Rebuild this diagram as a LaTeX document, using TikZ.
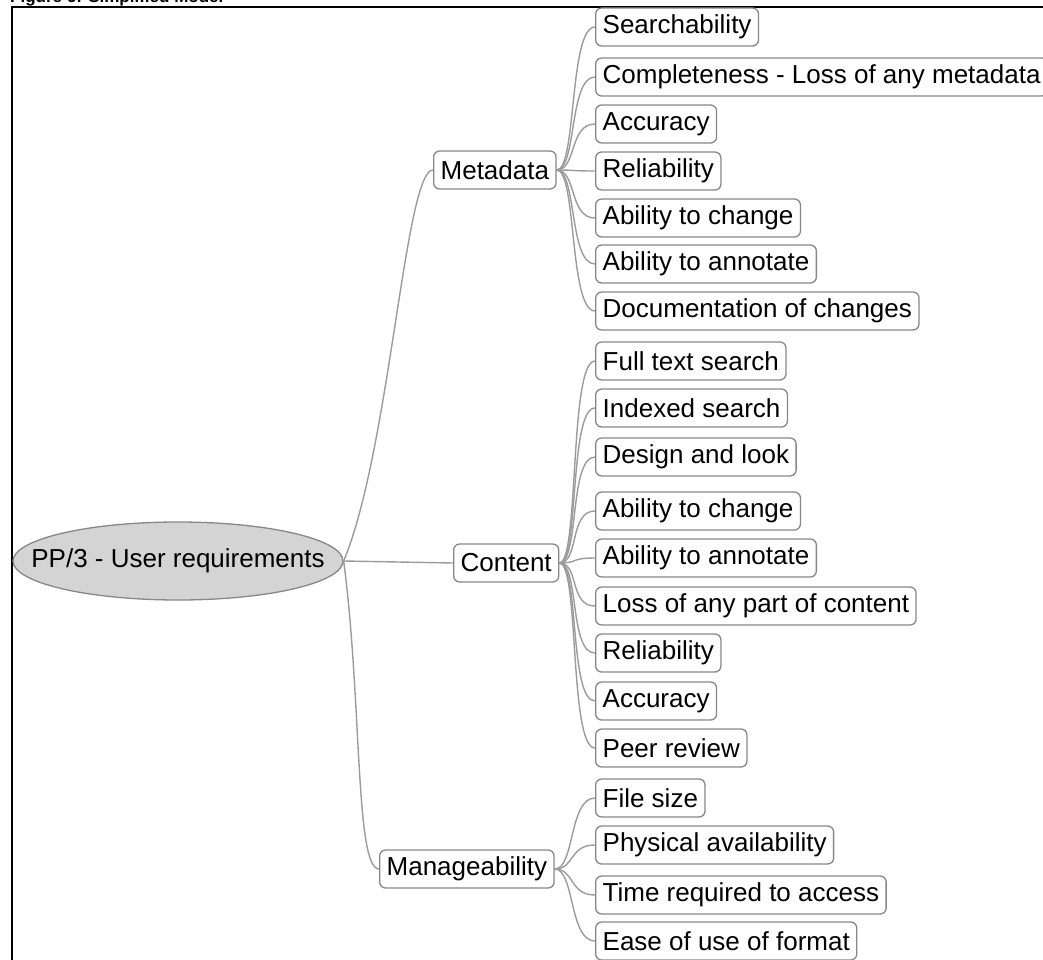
\documentclass[tikz,border=0pt]{standalone}
\usepackage{fontspec}
\setmainfont{Liberation Sans}
\usetikzlibrary{shapes.geometric}
\definecolor{conn}{RGB}{155,155,155}
\definecolor{boxline}{RGB}{135,135,135}
\definecolor{rootfill}{RGB}{212,212,212}
\tikzset{
  leaf/.style={draw=boxline, line width=1.3pt, rounded corners=6pt, fill=white,
    anchor=west, inner xsep=7pt, inner ysep=0pt, minimum height=38pt,
    font=\fontsize{26}{29}\selectfont, text=black},
  mid/.style={leaf},
  rootnode/.style={draw=boxline, line width=1.3pt, ellipse, fill=rootfill,
    minimum width=330pt, minimum height=78pt, inner sep=0pt,
    font=\fontsize{26}{30}\selectfont},
  link/.style={draw=conn, line width=1.4pt},
}
\begin{document}
\begin{tikzpicture}[x=1pt,y=-1pt]
\useasboundingbox (0,0) rectangle (1043,960);
% title (clipped, as in the reference) and frame
\node[anchor=base west, inner sep=0pt, font=\bfseries\fontsize{17}{20}\selectfont] (title) at (10,2.7) {Figure 6: Simplified Model};
\draw[line width=2pt] (11.5,961) -- (11.5,7) -- (1044,7);

% root
\node[rootnode] (root) at (178,561) {\makebox[0pt]{PP/3 - User requirements}};

% middle nodes
\node[mid] (meta) at (433,170) {Metadata};
\node[mid] (cont) at (453,563) {Content};
\node[mid] (mana) at (379,869) {Manageability};

% root connectors
\draw[link] (root.east) .. controls (390,450) and (405,170) .. (meta.west);
\draw[link] (root.east) -- (cont.west);
\draw[link] (root.east) .. controls (362,700) and (355,869) .. (mana.west);

% metadata leaves
\node[leaf] (m1) at (595,27) {Searchability};
\node[leaf] (m2) at (595,77) {Completeness - Loss of any metadata};
\node[leaf] (m3) at (595,124) {Accuracy};
\node[leaf] (m4) at (595,171) {Reliability};
\node[leaf] (m5) at (595,218) {Ability to change};
\node[leaf] (m6) at (595,264) {Ability to annotate};
\node[leaf] (m7) at (595,311) {Documentation of changes};

% content leaves
\node[leaf] (c1) at (595,361) {Full text search};
\node[leaf] (c2) at (595,408) {Indexed search};
\node[leaf] (c3) at (595,457) {Design and look};
\node[leaf] (c4) at (595,511) {Ability to change};
\node[leaf] (c5) at (595,558) {Ability to annotate};
\node[leaf] (c6) at (595,606) {Loss of any part of content};
\node[leaf] (c7) at (595,653) {Reliability};
\node[leaf] (c8) at (595,701) {Accuracy};
\node[leaf] (c9) at (595,748) {Peer review};

% manageability leaves
\node[leaf] (g1) at (595,798) {File size};
\node[leaf] (g2) at (595,845) {Physical availability};
\node[leaf] (g3) at (595,895) {Time required to access};
\node[leaf] (g4) at (595,941) {Ease of use of format};

\foreach \p/\list in {meta/{m1,m2,m3,m4,m5,m6,m7},
                      cont/{c1,c2,c3,c4,c5,c6,c7,c8,c9},
                      mana/{g1,g2,g3,g4}}{
  \foreach \c in \list {
    \draw[link] (\p.east) .. controls +(20,0) and +(-26,0) .. (\c.west);
  }
}
\end{tikzpicture}
\end{document}
